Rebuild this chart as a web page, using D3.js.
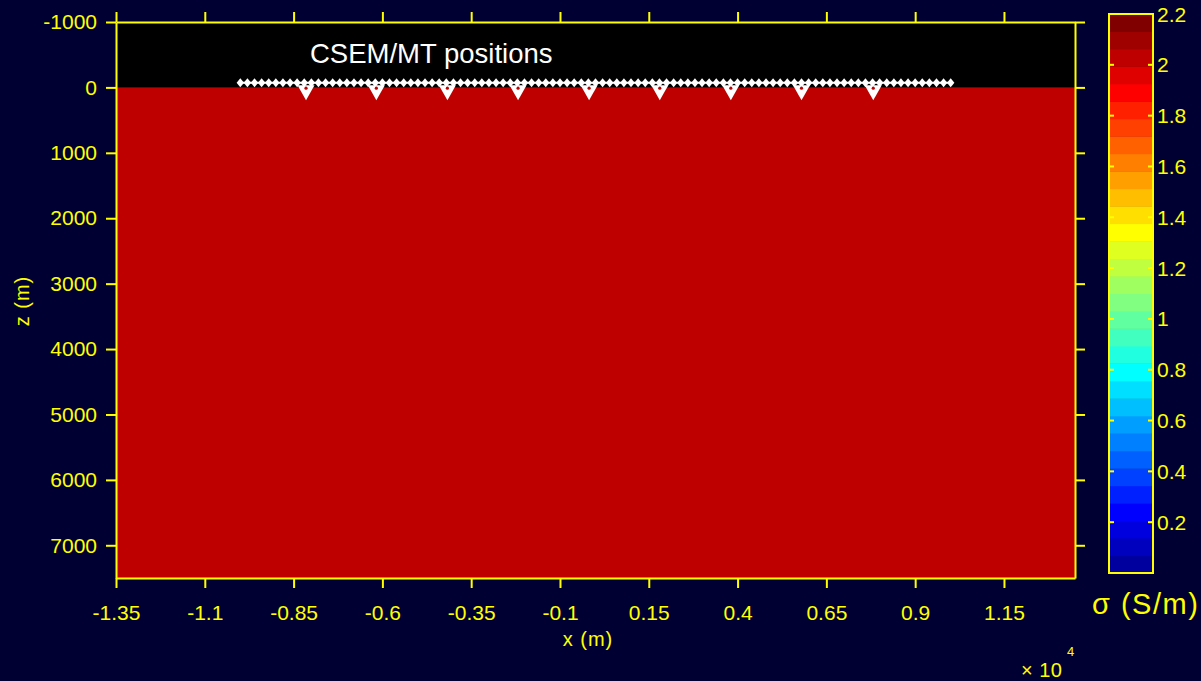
<!DOCTYPE html>
<html>
<head>
<meta charset="utf-8">
<script src="https://cdn.jsdelivr.net/npm/d3@7"></script>
<style>
  html, body { margin: 0; padding: 0; background: #000033; }
  svg { display: block; }
  text { font-family: "Liberation Sans", Arial, sans-serif; }
</style>
</head>
<body>
<svg id="chart" width="1201" height="681"></svg>
<script>
// Horizontal axis ticks (m) and their labels in units of 10^4 m
const xTickValues = [-13500, -11000, -8500, -6000, -3500, -1000, 1500, 4000, 6500, 9000, 11500];
const xTickLabels = ["-1.35", "-1.1", "-0.85", "-0.6", "-0.35", "-0.1", "0.15", "0.4", "0.65", "0.9", "1.15"];
// Depth axis ticks (m) and labels
const zTickValues = [-1000, 0, 1000, 2000, 3000, 4000, 5000, 6000, 7000];
const zTickLabels = ["-1000", "0", "1000", "2000", "3000", "4000", "5000", "6000", "7000"];
// Colour bar ticks (S/m)
const cbTickValues = [0.2, 0.4, 0.6, 0.8, 1, 1.2, 1.4, 1.6, 1.8, 2, 2.2];
const cbTickLabels = ["0.2", "0.4", "0.6", "0.8", "1", "1.2", "1.4", "1.6", "1.8", "2", "2.2"];

// Conductivity model: air layer (no value) over a uniform half-space
const layerTop = [-1000, 0];
const layerBottom = [0, 7500];
const layerSigma = [null, 2];

// Receiver positions (m) along the line, and their depth
const receiverX = [-10000,-9800,-9600,-9400,-9200,-9000,-8800,-8600,-8400,-8200,-8000,-7800,-7600,-7400,-7200,-7000,-6800,-6600,-6400,-6200,-6000,-5800,-5600,-5400,-5200,-5000,-4800,-4600,-4400,-4200,-4000,-3800,-3600,-3400,-3200,-3000,-2800,-2600,-2400,-2200,-2000,-1800,-1600,-1400,-1200,-1000,-800,-600,-400,-200,0,200,400,600,800,1000,1200,1400,1600,1800,2000,2200,2400,2600,2800,3000,3200,3400,3600,3800,4000,4200,4400,4600,4800,5000,5200,5400,5600,5800,6000,6200,6400,6600,6800,7000,7200,7400,7600,7800,8000,8200,8400,8600,8800,9000,9200,9400,9600,9800,10000];
const receiverZ = -70;
// Source positions (m) and depth
const sourceX = [-8150, -6170, -4170, -2180, -180, 1810, 3810, 5800, 7820];
const sourceZ = 80;

const svg = d3.select("#chart");
const yellow = "#ffff00";

// MATLAB-style jet colormap with m entries
function jet(m) {
  const n = Math.ceil(m / 4);
  const u = [];
  for (let i = 1; i <= n; i++) u.push(i / n);
  for (let i = 1; i < n; i++) u.push(1);
  for (let i = n; i >= 1; i--) u.push(i / n);
  const off = Math.ceil(n / 2) - (m % 4 === 1 ? 1 : 0);
  const J = d3.range(m).map(() => [0, 0, 0]);
  u.forEach((v, k) => {
    const g = off + k + 1, r = g + n, b = g - n;
    if (r >= 1 && r <= m) J[r - 1][0] = v;
    if (g >= 1 && g <= m) J[g - 1][1] = v;
    if (b >= 1 && b <= m) J[b - 1][2] = v;
  });
  return J.map(c => d3.rgb(Math.round(c[0] * 255), Math.round(c[1] * 255), Math.round(c[2] * 255)).toString());
}
const palette = jet(32);
const color = d3.scaleQuantize().domain([0, 2.2]).range(palette);

// Main axes
const x = d3.scaleLinear().domain([-13500, 13500]).range([116, 1075]);
const z = d3.scaleLinear().domain([-1000, 7500]).range([22, 578]);

// Model layers
svg.append("g").selectAll("rect")
  .data(layerTop.map((t, i) => ({ top: t, bottom: layerBottom[i], sigma: layerSigma[i] })))
  .join("rect")
  .attr("x", x(-13500))
  .attr("width", x(13500) - x(-13500))
  .attr("y", d => z(d.top))
  .attr("height", d => z(d.bottom) - z(d.top))
  .attr("fill", d => d.sigma == null ? "#000000" : color(d.sigma));

// Receivers: white diamonds along the line
const diamond = "M0,-4.5L3.7,0L0,4.5L-3.7,0Z";
const rx = svg.append("g");
rx.append("line")
  .attr("x1", x(receiverX[0])).attr("x2", x(receiverX[receiverX.length - 1]))
  .attr("y1", z(receiverZ)).attr("y2", z(receiverZ))
  .attr("stroke", "#fff").attr("stroke-width", 2);
rx.selectAll("path")
  .data(receiverX)
  .join("path")
  .attr("d", diamond)
  .attr("transform", d => `translate(${x(d)},${z(receiverZ)})`)
  .attr("fill", "#fff");

// Sources: downward triangles with a small centre dot
const src = svg.append("g").selectAll("g")
  .data(sourceX)
  .join("g")
  .attr("transform", d => `translate(${x(d)},${z(sourceZ)})`);
src.append("path")
  .attr("d", "M-8.5,-7.5L8.5,-7.5L0,7.5Z")
  .attr("fill", "#fff");
src.append("circle")
  .attr("cx", 0).attr("cy", -4.5).attr("r", 1.6)
  .attr("fill", color(2));

svg.append("text")
  .attr("x", 310).attr("y", 63)
  .attr("fill", "#ffffff")
  .attr("font-size", 27.5)
  .text("CSEM/MT positions");

// Axes with outward ticks on all four sides
function styleAxis(g) {
  g.selectAll("path.domain").attr("stroke", yellow).attr("stroke-width", 2);
  g.selectAll(".tick line").attr("stroke", yellow).attr("stroke-width", 2);
  g.selectAll(".tick text").attr("fill", yellow).attr("font-size", 21)
    .attr("font-family", "'Liberation Sans', Arial, sans-serif");
}
const fmtX = v => xTickLabels[xTickValues.indexOf(v)];
const fmtZ = v => zTickLabels[zTickValues.indexOf(v)];

svg.append("g").attr("transform", `translate(0,${z(7500)})`)
  .call(d3.axisBottom(x).tickValues(xTickValues).tickFormat(fmtX).tickSize(10).tickSizeOuter(0).tickPadding(17))
  .call(styleAxis);
svg.append("g").attr("transform", `translate(0,${z(-1000)})`)
  .call(d3.axisTop(x).tickValues(xTickValues).tickFormat("").tickSize(10).tickSizeOuter(0))
  .call(styleAxis);
svg.append("g").attr("transform", `translate(${x(-13500)},0)`)
  .call(d3.axisLeft(z).tickValues(zTickValues).tickFormat(fmtZ).tickSize(10).tickSizeOuter(0).tickPadding(9))
  .call(styleAxis);
svg.append("g").attr("transform", `translate(${x(13500)},0)`)
  .call(d3.axisRight(z).tickValues(zTickValues).tickFormat("").tickSize(10).tickSizeOuter(0))
  .call(styleAxis);

// Axis titles
svg.append("text")
  .attr("x", 588).attr("y", 646)
  .attr("text-anchor", "middle")
  .attr("fill", yellow).attr("font-size", 20)
  .attr("letter-spacing", 1)
  .text("x (m)");
svg.append("text")
  .attr("transform", "translate(29,301) rotate(-90)")
  .attr("text-anchor", "middle")
  .attr("fill", yellow).attr("font-size", 20)
  .attr("letter-spacing", 1)
  .text("z (m)");
svg.append("text")
  .attr("x", 1021).attr("y", 677)
  .attr("fill", yellow).attr("font-size", 20)
  .attr("letter-spacing", 0.5)
  .text("× 10");
svg.append("text")
  .attr("x", 1067).attr("y", 656)
  .attr("fill", yellow).attr("font-size", 13)
  .text("4");

// Colour bar
const cb = d3.scaleLinear().domain([0, 2.2]).range([573, 14]);
const cbX0 = 1109, cbX1 = 1153;
const step = 2.2 / palette.length;
svg.append("g").selectAll("rect")
  .data(palette)
  .join("rect")
  .attr("x", cbX0)
  .attr("width", cbX1 - cbX0)
  .attr("y", (d, i) => cb((i + 1) * step))
  .attr("height", (d, i) => cb(i * step) - cb((i + 1) * step) + 0.5)
  .attr("fill", d => d);
svg.append("rect")
  .attr("x", cbX0).attr("y", cb(2.2))
  .attr("width", cbX1 - cbX0).attr("height", cb(0) - cb(2.2))
  .attr("fill", "none").attr("stroke", yellow).attr("stroke-width", 2);
const cbTicks = svg.append("g");
cbTicks.selectAll("line.l")
  .data(cbTickValues.filter(v => v < 2.2))
  .join("line")
  .attr("x1", cbX0).attr("x2", cbX0 + 5)
  .attr("y1", d => cb(d)).attr("y2", d => cb(d))
  .attr("stroke", yellow).attr("stroke-width", 2);
cbTicks.selectAll("line.r")
  .data(cbTickValues.filter(v => v < 2.2))
  .join("line")
  .attr("x1", cbX1 - 5).attr("x2", cbX1)
  .attr("y1", d => cb(d)).attr("y2", d => cb(d))
  .attr("stroke", yellow).attr("stroke-width", 2);
cbTicks.selectAll("text")
  .data(cbTickValues)
  .join("text")
  .attr("x", 1157)
  .attr("y", d => cb(d))
  .attr("dy", "0.36em")
  .attr("fill", yellow).attr("font-size", 21)
  .text((d, i) => cbTickLabels[i]);
svg.append("text")
  .attr("x", 1092).attr("y", 614)
  .attr("fill", yellow).attr("font-size", 29)
  .attr("letter-spacing", 1.5)
  .text("σ (S/m)");
</script>
</body>
</html>
